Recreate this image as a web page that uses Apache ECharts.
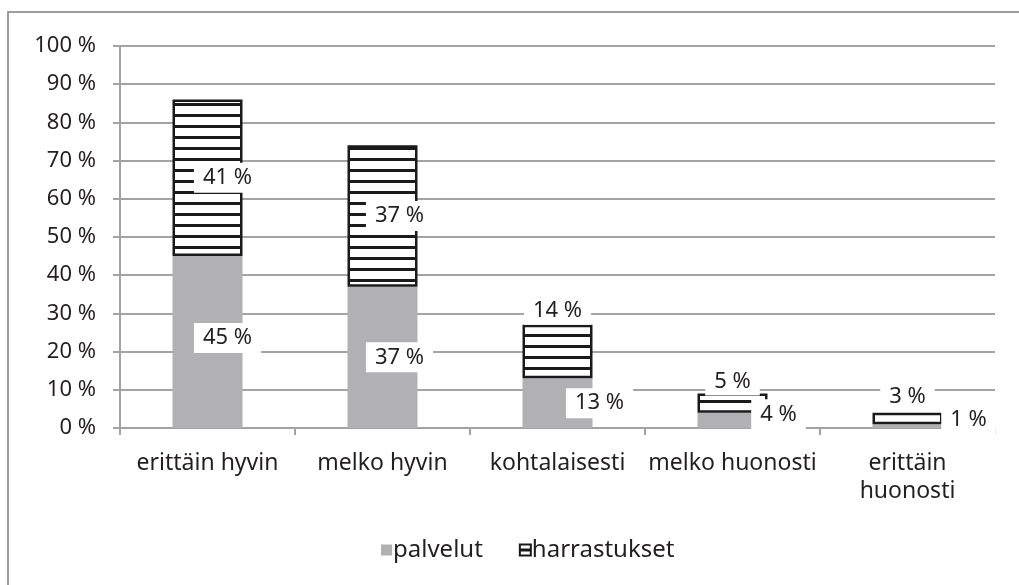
<!DOCTYPE html>
<html>
<head>
<meta charset="utf-8">
<script src="https://cdn.jsdelivr.net/npm/echarts@6/dist/echarts.min.js"></script>
<style>
  html, body { margin: 0; padding: 0; background: #fff; }
  #chart { width: 1019px; height: 585px; }
</style>
</head>
<body>
<div id="chart"></div>
<script>
const categories = ['erittäin hyvin', 'melko hyvin', 'kohtalaisesti', 'melko huonosti', 'erittäin huonosti']
const palvelut = [45, 37, 13, 4, 1]
const harrastukset = [41, 37, 14, 5, 3]

const FONT = 'Noto Sans'
const TEXT = '#231f20'
const GRAY = '#b1b1b3'
const LINE = '#a3a3a3'

// vaakaraidat harrastuksille
const makeStripes = () => {
  const c = document.createElement('canvas')
  c.width = 12
  c.height = 11
  const ctx = c.getContext('2d')
  ctx.fillStyle = '#fff'
  ctx.fillRect(0, 0, 12, 11)
  ctx.fillStyle = '#1a1a1a'
  ctx.fillRect(0, 4, 12, 3)
  return c
}

const labelBase = {
  show: true,
  formatter: '{c} %',
  color: TEXT,
  fontFamily: FONT,
  fontSize: 22,
  backgroundColor: '#fff',
  padding: [5, 9, 3, 9],
}

// Excelin label-sijainnit
const palvelutLabels = [
  { position: 'inside', offset: [20, -4] },
  { position: 'inside', offset: [17, 0] },
  { position: 'inside', offset: [42, 0] },
  { position: 'inside', offset: [46, -6] },
  { position: 'inside', offset: [61, -6] },
]
const harrastusLabels = [
  { position: 'inside', offset: [20, 0] },
  { position: 'inside', offset: [17, 0] },
  { position: 'top', distance: 0 },
  { position: 'top', distance: -2 },
  { position: 'top', distance: 2 },
]

const chart = echarts.init(document.getElementById('chart'))

chart.setOption({
  animation: false,
  backgroundColor: '#fff',
  graphic: [
    {
      type: 'rect',
      shape: { x: 8, y: 12, width: 1040, height: 620 },
      style: { fill: 'none', stroke: '#9d9d9d', lineWidth: 2 },
      silent: true,
    },
  ],
  grid: { left: 120, right: 24, top: 46, bottom: 157 },
  legend: {
    bottom: 18,
    left: 376,
    itemWidth: 11,
    itemHeight: 11,
    itemGap: 36,
    icon: 'rect',
    textStyle: { color: TEXT, fontFamily: FONT, fontSize: 24, padding: [0, 0, 0, -4] },
    data: ['palvelut', 'harrastukset'],
  },
  xAxis: {
    type: 'category',
    data: categories,
    axisLine: { lineStyle: { color: LINE, width: 2 } },
    axisTick: { show: true, length: 7, lineStyle: { color: LINE, width: 2 } },
    axisLabel: {
      color: TEXT,
      fontFamily: FONT,
      fontSize: 23,
      margin: 21,
      lineHeight: 28,
      interval: 0,
      formatter: (v) => (v === 'erittäin huonosti' ? 'erittäin\nhuonosti' : v),
    },
  },
  yAxis: {
    type: 'value',
    min: 0,
    max: 100,
    interval: 10,
    axisLine: { show: true, lineStyle: { color: LINE, width: 2 } },
    axisTick: { show: true, length: 7, lineStyle: { color: LINE, width: 2 } },
    axisLabel: { color: TEXT, fontFamily: FONT, fontSize: 22, margin: 24, formatter: '{value} %' },
    splitLine: { lineStyle: { color: LINE, width: 2 } },
  },
  series: [
    {
      name: 'palvelut',
      type: 'bar',
      stack: 'all',
      barWidth: 70,
      itemStyle: { color: GRAY },
      data: palvelut.map((v, i) => ({ value: v, label: { ...labelBase, ...palvelutLabels[i] } })),
      z: 2,
    },
    {
      name: 'harrastukset',
      type: 'bar',
      stack: 'all',
      barWidth: 70,
      itemStyle: {
        color: { image: makeStripes(), repeat: 'repeat' },
        borderColor: '#1a1a1a',
        borderWidth: 2.5,
      },
      data: harrastukset.map((v, i) => ({ value: v, label: { ...labelBase, ...harrastusLabels[i] } })),
      z: 2,
    },
  ],
})
</script>
</body>
</html>
